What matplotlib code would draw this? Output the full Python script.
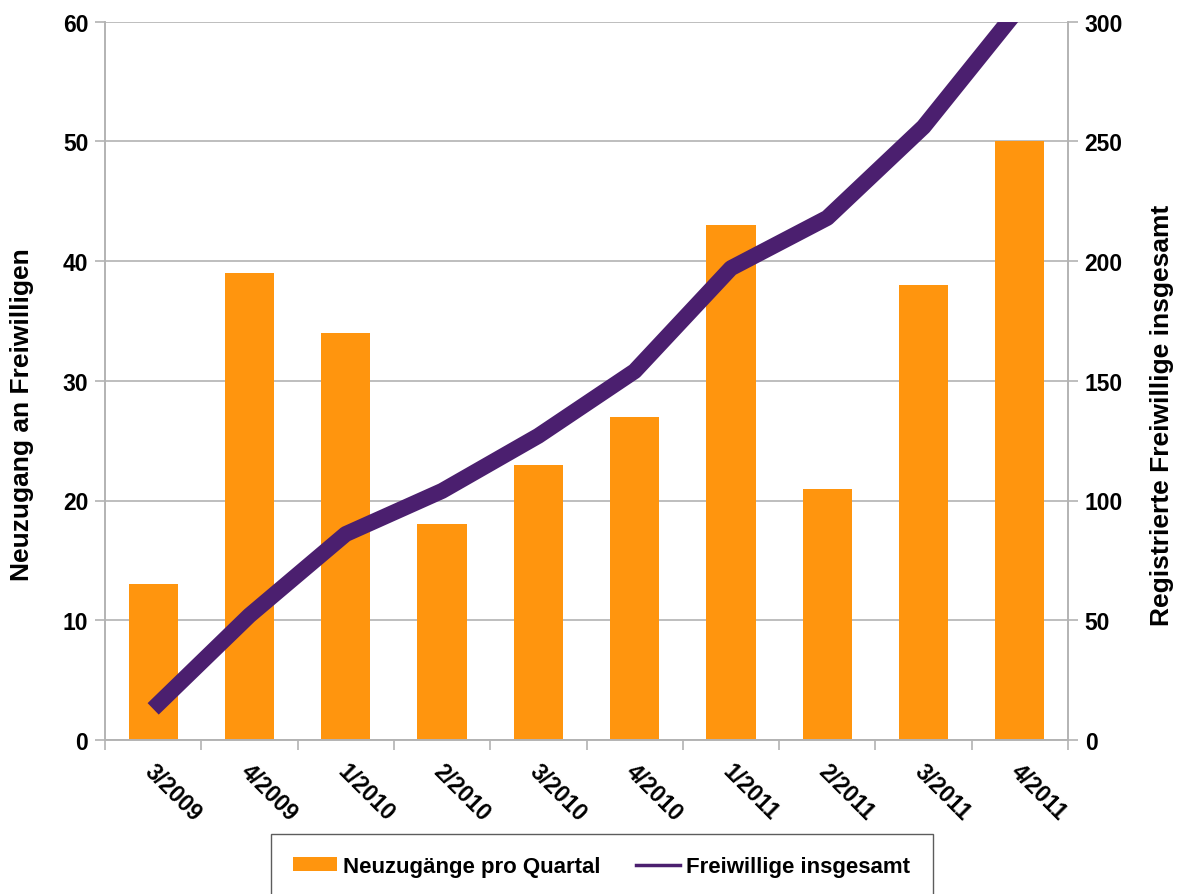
import matplotlib
matplotlib.use("Agg")
import matplotlib.pyplot as plt
import matplotlib.transforms as mtransforms
from matplotlib.lines import Line2D
import numpy as np

categories = ["3/2009", "4/2009", "1/2010", "2/2010", "3/2010",
              "4/2010", "1/2011", "2/2011", "3/2011", "4/2011"]
neuzugaenge = [13, 39, 34, 18, 23, 27, 43, 21, 38, 50]
insgesamt = [13, 52, 86, 104, 127, 154, 197, 218, 256, 306]

left_ticks = [0, 10, 20, 30, 40, 50, 60]
right_ticks = [0, 50, 100, 150, 200, 250, 300]

BAR = "#FF950E"
LINE = "#4B1F6F"
GRID = "#B3B3B3"

plt.rcParams["font.family"] = ["Liberation Sans", "DejaVu Sans"]
plt.rcParams["font.weight"] = "bold"

W, H = 1184, 895
fig = plt.figure(figsize=(W / 100, H / 100), dpi=100)
ax = fig.add_axes([105 / W, 1 - 741 / H, (1068 - 105) / W, (741 - 22.5) / H])
ax2 = ax.twinx()

x = np.arange(len(categories))
ax.bar(x, neuzugaenge, width=0.51, color=BAR, zorder=2,
       label="Neuzugänge pro Quartal")
ax2.plot(x, insgesamt, color=LINE, linewidth=11.5, solid_capstyle="butt",
         solid_joinstyle="bevel", zorder=3, label="Freiwillige insgesamt")

ax.set_xlim(-0.5, len(categories) - 0.5)
ax.set_ylim(0, 60)
ax2.set_ylim(0, 300)
ax.set_yticks(left_ticks)
ax2.set_yticks(right_ticks)
ax.yaxis.grid(True, color=GRID, linewidth=1.2, zorder=0)
ax.set_axisbelow(True)

for a in (ax, ax2):
    for s in a.spines.values():
        s.set_color(GRID)
        s.set_linewidth(1.2)
    a.spines["top"].set_visible(False)

ax.set_xticks(x)
ax.set_xticks(np.arange(-0.5, len(categories)), minor=True)
ax.tick_params(axis="x", which="major", length=0, pad=14)
ax.tick_params(axis="x", which="minor", length=7, color=GRID, width=1.2)
ax.set_xticklabels(categories, rotation=-45, ha="left", va="top",
                   rotation_mode="anchor", fontsize=16.5, fontweight="bold")
off = mtransforms.ScaledTranslation(3 / 100, 0, fig.dpi_scale_trans)
for lab in ax.get_xticklabels():
    lab.set_transform(lab.get_transform() + off)

ax.tick_params(axis="y", length=7, color=GRID, width=1.2, labelsize=16.5, pad=5)
ax2.tick_params(axis="y", length=7, color=GRID, width=1.2, labelsize=16.5, pad=5)
for lab in ax.get_yticklabels() + ax2.get_yticklabels():
    lab.set_fontweight("bold")

fig.text(22 / W, 1 - 415 / H, "Neuzugang an Freiwilligen", rotation=90,
         ha="center", va="center", fontsize=19, fontweight="bold")
fig.text(1162 / W, 1 - 415 / H, "Registrierte Freiwillige insgesamt",
         rotation=90, ha="center", va="center", fontsize=19, fontweight="bold")

h1, l1 = ax.get_legend_handles_labels()
h2 = [Line2D([0], [0], color=LINE, linewidth=2.5)]
l2 = ["Freiwillige insgesamt"]
leg = fig.legend(h1 + h2, l1 + l2, loc="upper left",
                 bbox_to_anchor=(271 / W, 1 - 835 / H), ncol=2,
                 frameon=True, fancybox=False,
                 prop={"weight": "bold", "size": 16},
                 handlelength=1.95, handleheight=0.6, columnspacing=1.6,
                 borderpad=1.0, handletextpad=0.3, borderaxespad=0)
leg.get_frame().set_edgecolor("#333333")
leg.get_frame().set_linewidth(1.0)

fig.savefig("out.png", dpi=100)
